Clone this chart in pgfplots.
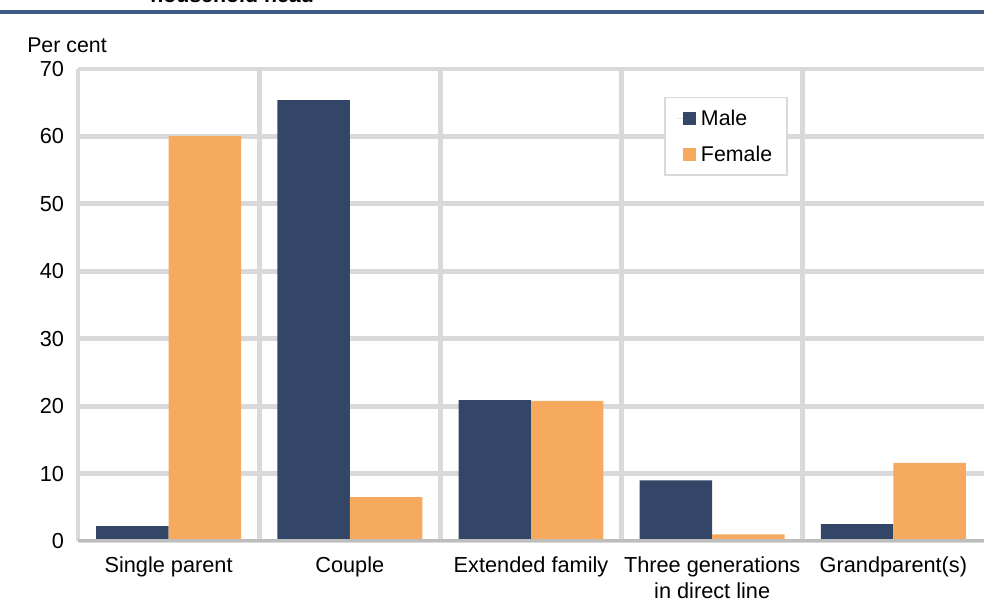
\documentclass[border=0pt]{standalone}
\usepackage{fontspec}
\setmainfont{Liberation Sans}
\usepackage{pgfplots}
\pgfplotsset{compat=1.18}
\definecolor{male}{HTML}{344667}
\definecolor{female}{HTML}{F6AA5E}
\definecolor{gridgray}{HTML}{D9D9D9}
\definecolor{zerogray}{HTML}{BDBDBD}
\definecolor{rulecol}{HTML}{3F5A85}
\begin{document}
\begin{tikzpicture}
\useasboundingbox (-58.5pt,-45pt) rectangle (679.5pt,405.75pt);
% header rule and clipped title from the page above
\draw[rulecol, line width=3pt] (-58.5pt,396.75pt) -- (679.5pt,396.75pt);
\node[anchor=base west, inner sep=0pt, font=\fontsize{16}{19}\selectfont\bfseries] at (54pt,403.5pt) {household head};
\node[anchor=base west, inner sep=0pt, font=\fontsize{16}{20}\selectfont] at (-38.25pt,366pt) {Per cent};
\begin{axis}[
  at={(0,0)}, anchor=south west, scale only axis,
  width=679.5pt, height=354pt,
  ybar=0pt, bar width=0.4,
  xmin=-0.5, xmax=4.5, ymin=0, ymax=70,
  xtick={0,...,4},
  xticklabels={Single parent, Couple, Extended family, {Three generations\\in direct line}, Grandparent(s)},
  ytick={0,10,...,70},
  minor xtick={-0.5,0.5,1.5,2.5,3.5},
  xminorgrids, ymajorgrids,
  grid style={gridgray, line width=3.6pt},
  minor grid style={gridgray, line width=3.6pt},
  axis line style={draw=none},
  major tick length=0pt, minor tick length=0pt,
  tick label style={font=\fontsize{16.3}{19}\selectfont},
  /pgf/number format/assume math mode=true,
  xticklabel style={align=center, yshift=-8.5pt},
  yticklabel style={xshift=-7pt},
  legend style={at={(0.647,0.941)}, anchor=north west, draw=gridgray, line width=1.2pt,
    font=\fontsize{16}{20}\selectfont, row sep=10pt, inner xsep=9pt, inner ysep=7pt},
  legend cell align=left,
  legend image code/.code={\fill[#1] (4.5pt,-5pt) rectangle (14.5pt,5pt); \path (0pt,0pt) -- (16pt,0pt);},
]
\addplot[fill=male, draw=none] coordinates {(0,2.2) (1,65.4) (2,20.9) (3,9.0) (4,2.5)};
\addplot[fill=female, draw=none] coordinates {(0,60.1) (1,6.5) (2,20.8) (3,1.0) (4,11.6)};
\legend{Male, Female}
\draw[zerogray, line width=3.6pt] (axis cs:-0.5,0) -- (axis cs:4.5,0);
\end{axis}
\end{tikzpicture}
\end{document}
